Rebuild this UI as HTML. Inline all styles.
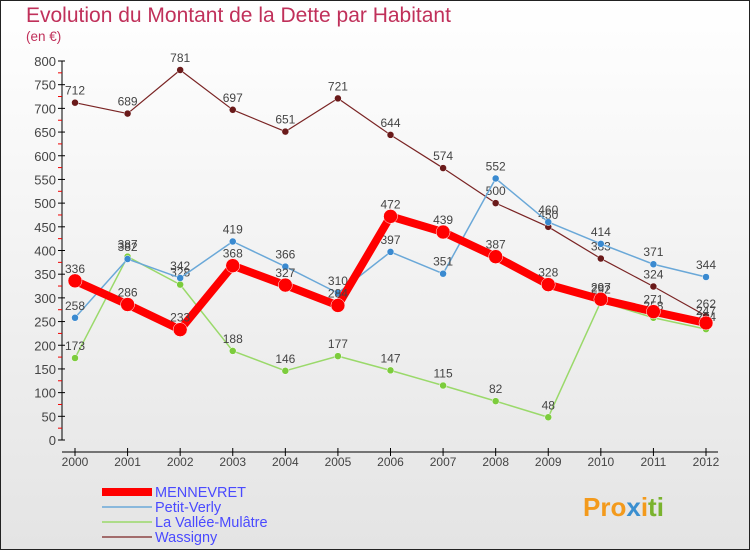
<!DOCTYPE html>
<html><head><meta charset="utf-8"><style>
body{margin:0;width:750px;height:550px;overflow:hidden;font-family:"Liberation Sans",sans-serif}
svg text{font-family:"Liberation Sans",sans-serif}
</style></head><body>
<svg id="c" width="750" height="550">
<defs><linearGradient id="bg" x1="0" y1="0" x2="0" y2="1"><stop offset="0" stop-color="#ffffff"/><stop offset="1" stop-color="#e4e4e4"/></linearGradient></defs>
<rect x="0.5" y="0.5" width="749" height="549" fill="url(#bg)" stroke="#222"/>
<text x="26" y="22" font-size="21" fill="#c0305a">Evolution du Montant de la Dette par Habitant</text>
<text x="26" y="41" font-size="13.5" fill="#c0305a">(en €)</text>
<g id="axes"></g><g id="series"></g><g id="legend"></g>
<text x="583" y="516" font-size="26" font-weight="bold" fill="#f39a1c">Pro<tspan fill="#3a8fd0">x</tspan><tspan fill="#f39a1c">i</tspan><tspan fill="#7ab32e">ti</tspan></text>
</svg>
<script>
const years=[2000,2001,2002,2003,2004,2005,2006,2007,2008,2009,2010,2011,2012];
const yTicks=[0,50,100,150,200,250,300,350,400,450,500,550,600,650,700,750,800];
const mennevret=[336,286,233,368,327,284,472,439,387,328,297,271,247];
const petitVerly=[258,382,342,419,366,310,397,351,552,460,414,371,344];
const valleeMulatre=[173,387,328,188,146,177,147,115,82,48,292,258,234];
const wassigny=[712,689,781,697,651,721,644,574,500,450,383,324,262];
const NS="http://www.w3.org/2000/svg";
const x=i=>75+i*(706-75)/12;
const y=v=>440-v*(440-61)/800;
function mk(p,t,a){const e=document.createElementNS(NS,t);for(const k in a)e.setAttribute(k,a[k]);p.appendChild(e);return e;}
const ax=document.getElementById('axes');
const yl=mk(ax,'line',{x1:62,y1:61,x2:62,y2:440,stroke:'#000'});


const xl=mk(ax,'line',{x1:62,y1:452,x2:718,y2:452,stroke:'#000'});


yTicks.forEach((v,i)=>{
 mk(ax,'line',{x1:58,y1:y(v),x2:65,y2:y(v),stroke:'#000'});
 if(i<yTicks.length-1) mk(ax,'line',{x1:58,y1:y(v+25),x2:62,y2:y(v+25),stroke:'#e00'});
 const t=mk(ax,'text',{x:56,y:y(v)+5,'font-size':13,fill:'#444','text-anchor':'end'});t.textContent=v;
 
 
});
years.forEach((yr,i)=>{
 mk(ax,'line',{x1:x(i),y1:448,x2:x(i),y2:456,stroke:'#000'});
 const t=mk(ax,'text',{x:x(i),y:466,'font-size':12,fill:'#444','text-anchor':'middle'});t.textContent=yr;
 
 
});
const S=[
 {name:'Wassigny',d:wassigny,c:'#7a2424',w:1.2,r:3.5,pc:'#6a1a1a'},
 {name:'La Vallée-Mulâtre',d:valleeMulatre,c:'#9ad96a',w:1.5,r:3.5,pc:'#7ccc3c'},
 {name:'Petit-Verly',d:petitVerly,c:'#6aa8d8',w:1.5,r:3.5,pc:'#3a8ad0'},
 {name:'MENNEVRET',d:mennevret,c:'#f00',w:8,r:7,pc:'#f00'}
];
const sg=document.getElementById('series');
S.forEach(s=>{
 const g=mk(sg,'g',{});
 
 
 const pl=mk(g,'polyline',{points:s.d.map((v,i)=>x(i)+','+y(v)).join(' '),fill:'none',stroke:s.c,'stroke-width':s.w,'stroke-linejoin':'round'});
 
 
 s.d.forEach((v,i)=>{
  const c=mk(g,'circle',{cx:x(i),cy:y(v),r:s.r,fill:s.pc,stroke:'#fff','stroke-width':0.5});
  
  
  const t=mk(g,'text',{x:x(i),y:y(v)-8,'font-size':12,fill:'#444','text-anchor':'middle'});t.textContent=v;
  
  
 });
});
const lg=document.getElementById('legend');
[S[3],S[2],S[1],S[0]].forEach((s,i)=>{
 const yy=492+i*15;
 const g=mk(lg,'g',{});
 
 
 mk(g,'line',{x1:102,y1:yy,x2:152,y2:yy,stroke:s.c,'stroke-width':s.w});
 const t=mk(g,'text',{x:155,y:yy+5,'font-size':14.5,fill:'#4a4aff'});t.textContent=s.name;
});
</script>
</body></html>
